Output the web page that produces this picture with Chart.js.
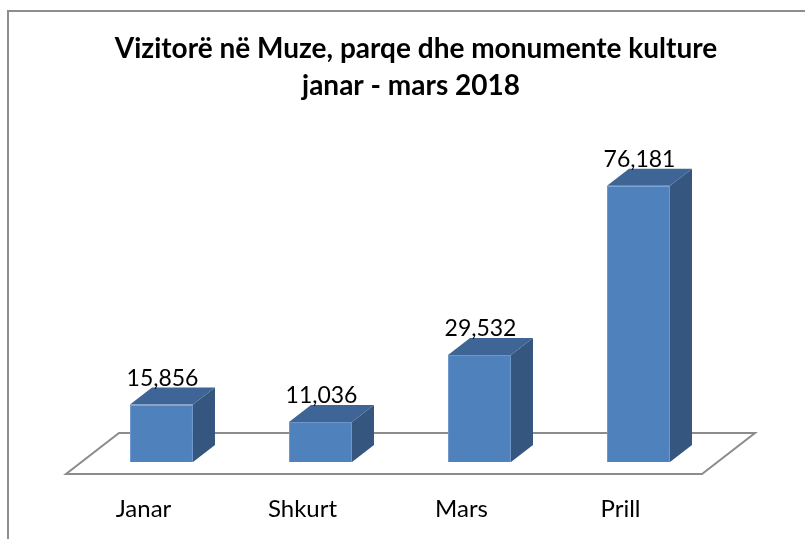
<!DOCTYPE html>
<html>
<head>
<meta charset="utf-8">
<script src="https://cdn.jsdelivr.net/npm/chart.js@4.4.1/dist/chart.umd.min.js"></script>
<style>
  html, body { margin: 0; padding: 0; background: #fff; }
  #wrap { width: 805px; height: 539px; }
</style>
</head>
<body>
<div id="wrap"><canvas id="chart" width="805" height="539"></canvas></div>
<script>
// data
const titleLines = ["Vizitorë në Muze, parqe dhe monumente kulture", "janar - mars 2018"];
const months = ["Janar", "Shkurt", "Mars", "Prill"];
const visitors = [15856, 11036, 29532, 76181];

const FRONT = "#4f81bd";
const SIDE = "#34567f";
const TOP = "#3e6595";
const DX = 22, DY = -17; // depth of the bars

const fmt = v => v.toLocaleString("en-US");

const bars3d = {
  id: "bars3d",
  beforeDraw(chart) {
    const ctx = chart.ctx;
    ctx.save();
    ctx.fillStyle = "#fff";
    ctx.fillRect(0, 0, chart.width, chart.height);
    // outer frame
    ctx.strokeStyle = "#8e8e8e";
    ctx.lineWidth = 2;
    ctx.beginPath();
    ctx.moveTo(8, chart.height);
    ctx.lineTo(8, 11);
    ctx.lineTo(chart.width, 11);
    ctx.stroke();
    // title
    ctx.fillStyle = "#000";
    ctx.font = "bold 28px Lato";
    ctx.textAlign = "center";
    ctx.textBaseline = "alphabetic";
    ctx.fillText(titleLines[0], 416, 58);
    ctx.fillText(titleLines[1], 411, 95);
    ctx.restore();
  },
  beforeDatasetsDraw(chart) {
    const ctx = chart.ctx;
    const a = chart.chartArea;
    const y0 = chart.scales.y.getPixelForValue(0);
    ctx.save();
    ctx.fillStyle = "#fff";
    ctx.strokeStyle = "#8c8c8c";
    ctx.lineWidth = 2;
    ctx.beginPath();
    ctx.moveTo(a.left - 16, y0 + 12);
    ctx.lineTo(a.right - 16, y0 + 12);
    ctx.lineTo(a.right + 37, y0 - 29);
    ctx.lineTo(a.left + 37, y0 - 29);
    ctx.closePath();
    ctx.fill();
    ctx.stroke();
    ctx.restore();
  },
  afterDatasetsDraw(chart) {
    const ctx = chart.ctx;
    const meta = chart.getDatasetMeta(0);
    ctx.save();
    meta.data.forEach((bar, i) => {
      const p = bar.getProps(["x", "y", "base", "width"], true);
      const l = p.x - p.width / 2, r = p.x + p.width / 2;
      // side face
      ctx.fillStyle = SIDE;
      ctx.beginPath();
      ctx.moveTo(r, p.y);
      ctx.lineTo(r + DX, p.y + DY);
      ctx.lineTo(r + DX, p.base + DY);
      ctx.lineTo(r, p.base);
      ctx.closePath();
      ctx.fill();
      // top face
      ctx.fillStyle = TOP;
      ctx.beginPath();
      ctx.moveTo(l, p.y);
      ctx.lineTo(l + DX, p.y + DY);
      ctx.lineTo(r + DX, p.y + DY);
      ctx.lineTo(r, p.y);
      ctx.closePath();
      ctx.fill();
      // value label
      ctx.fillStyle = "#000";
      ctx.font = "23px Lato";
      ctx.textAlign = "center";
      ctx.textBaseline = "alphabetic";
      ctx.fillText(fmt(visitors[i]), p.x + 1, p.y + DY - 2);
      // category label
      ctx.font = "24px Lato";
      ctx.fillText(months[i], p.x - 18, 517);
    });
    ctx.restore();
  }
};

new Chart(document.getElementById("chart"), {
  type: "bar",
  data: {
    labels: months,
    datasets: [{
      data: visitors,
      backgroundColor: FRONT,
      borderColor: "#6d96cb",
      borderWidth: 1,
      categoryPercentage: 1,
      barPercentage: 0.396
    }]
  },
  options: {
    responsive: false,
    animation: false,
    layout: { padding: { top: 103, left: 82, right: 87, bottom: 77 } },
    plugins: { legend: { display: false }, tooltip: { enabled: false }, title: { display: false } },
    scales: {
      x: { display: false },
      y: { display: false, min: 0, max: 99000 }
    }
  },
  plugins: [bars3d]
});
</script>
</body>
</html>
